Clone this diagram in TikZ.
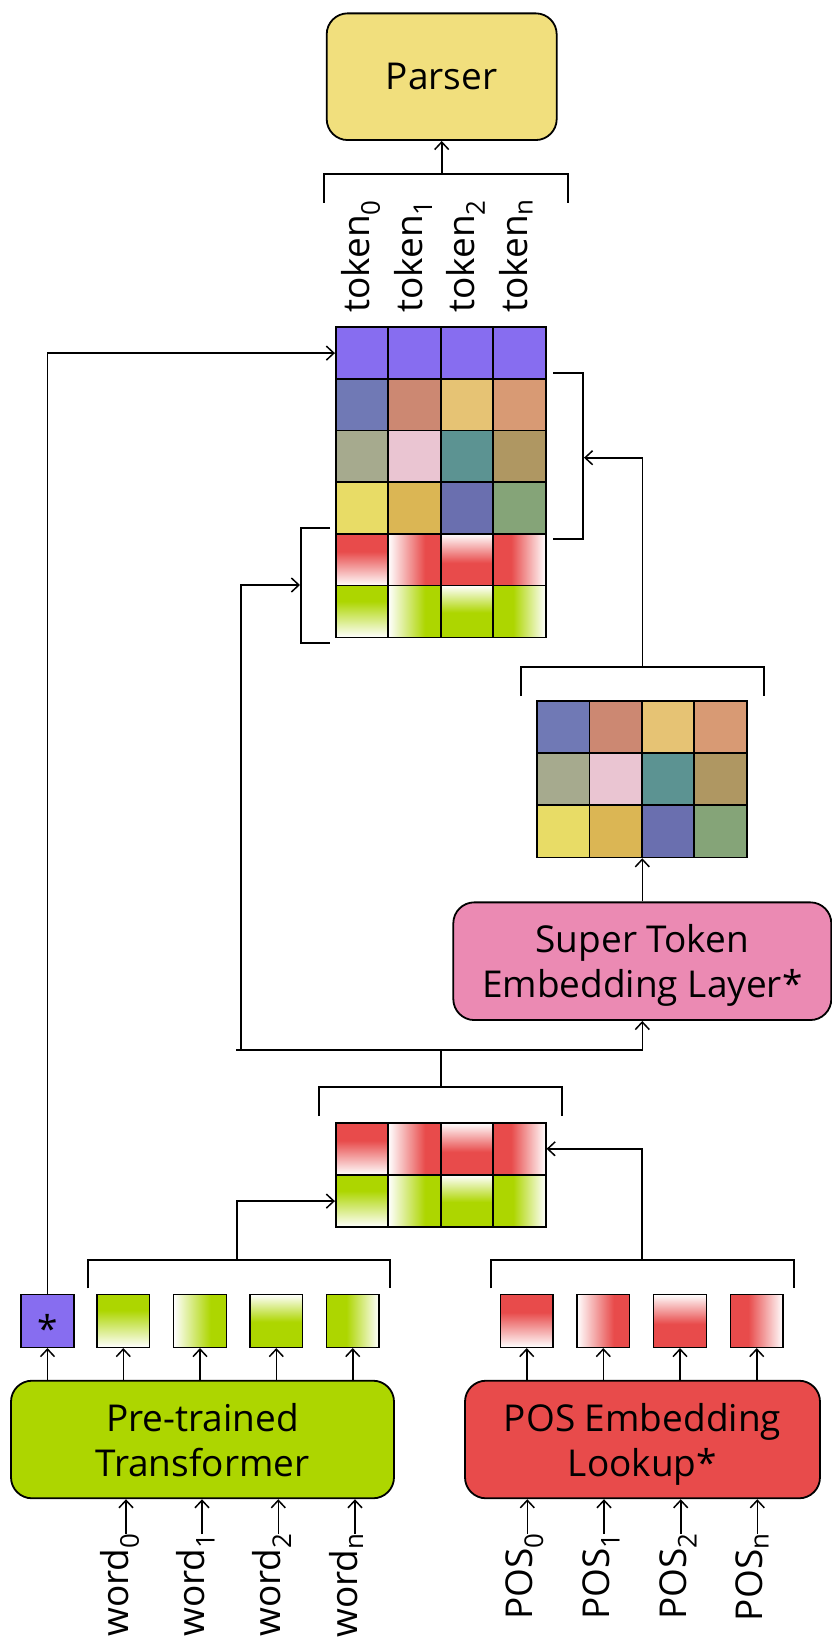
\documentclass[tikz,border=0pt]{standalone}
\usepackage{fontspec}
\setmainfont{Open Sans}
\usetikzlibrary{arrows.meta}
\definecolor{cpurple}{HTML}{876DF0}
\definecolor{cred}{HTML}{E84B4B}
\definecolor{cgreen}{HTML}{ADD600}
\definecolor{cparser}{HTML}{F1DF7D}
\definecolor{cpink}{HTML}{EB8AB3}
\definecolor{ca}{HTML}{7079B5}
\definecolor{cb}{HTML}{CC8872}
\definecolor{cc}{HTML}{E6C374}
\definecolor{cd}{HTML}{D89A74}
\definecolor{ce}{HTML}{A6AA8E}
\definecolor{cf}{HTML}{EAC5D2}
\definecolor{cg}{HTML}{5C9392}
\definecolor{ch}{HTML}{AF9762}
\definecolor{ci}{HTML}{E8DC66}
\definecolor{cj}{HTML}{DBB654}
\definecolor{ck}{HTML}{6A6FAF}
\definecolor{cl}{HTML}{85A478}
% red shadings
\pgfdeclareverticalshading{rTB}{100bp}{color(0bp)=(white); color(25bp)=(white); color(58bp)=(cred); color(100bp)=(cred)}
\pgfdeclarehorizontalshading{rWL}{100bp}{color(0bp)=(white); color(25bp)=(white); color(60bp)=(cred); color(100bp)=(cred)}
\pgfdeclareverticalshading{rWT}{100bp}{color(0bp)=(cred); color(47bp)=(cred); color(75bp)=(white); color(100bp)=(white)}
\pgfdeclarehorizontalshading{rCL}{100bp}{color(0bp)=(cred); color(42bp)=(cred); color(75bp)=(white); color(100bp)=(white)}
% green shadings
\pgfdeclareverticalshading{gTB}{100bp}{color(0bp)=(white); color(25bp)=(white); color(60bp)=(cgreen); color(100bp)=(cgreen)}
\pgfdeclarehorizontalshading{gWL}{100bp}{color(0bp)=(white); color(25bp)=(white); color(60bp)=(cgreen); color(100bp)=(cgreen)}
\pgfdeclareverticalshading{gWT}{100bp}{color(0bp)=(cgreen); color(49bp)=(cgreen); color(75bp)=(white); color(100bp)=(white)}
\pgfdeclarehorizontalshading{gCL}{100bp}{color(0bp)=(cgreen); color(44bp)=(cgreen); color(75bp)=(white); color(100bp)=(white)}
\begin{document}
\begin{tikzpicture}[x=1pt,y=-1pt,
  font=\fontsize{37}{45}\selectfont,
  box/.style={draw, line width=1.8pt, rounded corners=21pt, inner sep=0pt, align=center, text depth=0pt},
  cell/.style={draw, line width=1.6pt, inner sep=0pt, minimum width=52.5pt, minimum height=51.9pt},
  sq/.style={draw, line width=1.5pt, inner sep=0pt, minimum width=52.8pt, minimum height=53pt},
  arr/.style={line width=1.6pt, -{Straight Barb[length=7.5pt,width=14pt,line width=1.5pt]}},
  ln/.style={line width=1.6pt},
  brk/.style={line width=2pt},
  lbl/.style={inner sep=0pt, rotate=90}
]
\useasboundingbox[fill=white] (0,0) rectangle (832,1639);

% ---------- boxes ----------
\node[box, fill=cparser, minimum width=230pt, minimum height=126.7pt] (parser) at (441.7,76.7) {Parser};
\node[box, fill=cpink, minimum width=378pt, minimum height=117.7pt] (st) at (642.3,961.2) {Super Token\\Embedding Layer*};
\node[box, fill=cgreen, minimum width=383pt, minimum height=117.6pt] (tf) at (202.5,1439.5) {Pre-trained\\Transformer};
\node[box, fill=cred, minimum width=355pt, minimum height=117.6pt] (pos) at (642.5,1439.5) {POS Embedding\\Lookup*};

% ---------- top matrix ----------
\node[cell, fill=cpurple] (t11) at (362,353.1) {};
\node[cell, fill=cpurple] (t12) at (414.5,353.1) {};
\node[cell, fill=cpurple] (t13) at (467,353.1) {};
\node[cell, fill=cpurple] (t14) at (519.5,353.1) {};
\node[cell, fill=ca] (t21) at (362,404.8) {};
\node[cell, fill=cb] (t22) at (414.5,404.8) {};
\node[cell, fill=cc] (t23) at (467,404.8) {};
\node[cell, fill=cd] (t24) at (519.5,404.8) {};
\node[cell, fill=ce] (t31) at (362,456.5) {};
\node[cell, fill=cf] (t32) at (414.5,456.5) {};
\node[cell, fill=cg] (t33) at (467,456.5) {};
\node[cell, fill=ch] (t34) at (519.5,456.5) {};
\node[cell, fill=ci] (t41) at (362,508.1) {};
\node[cell, fill=cj] (t42) at (414.5,508.1) {};
\node[cell, fill=ck] (t43) at (467,508.1) {};
\node[cell, fill=cl] (t44) at (519.5,508.1) {};
\node[cell, shade, shading=rTB] (t51) at (362,559.8) {};
\node[cell, shade, shading=rWL] (t52) at (414.5,559.8) {};
\node[cell, shade, shading=rWT] (t53) at (467,559.8) {};
\node[cell, shade, shading=rCL] (t54) at (519.5,559.8) {};
\node[cell, shade, shading=gTB] (t61) at (362,611.5) {};
\node[cell, shade, shading=gWL] (t62) at (414.5,611.5) {};
\node[cell, shade, shading=gWT] (t63) at (467,611.5) {};
\node[cell, shade, shading=gCL] (t64) at (519.5,611.5) {};

% ---------- super token matrix ----------
\node[cell, fill=ca] (s11) at (563.5,727.1) {};
\node[cell, fill=cb] (s12) at (615.8,727.1) {};
\node[cell, fill=cc] (s13) at (668.2,727.1) {};
\node[cell, fill=cd] (s14) at (720.5,727.1) {};
\node[cell, fill=ce] (s21) at (563.5,779.3) {};
\node[cell, fill=cf] (s22) at (615.8,779.3) {};
\node[cell, fill=cg] (s23) at (668.2,779.3) {};
\node[cell, fill=ch] (s24) at (720.5,779.3) {};
\node[cell, fill=ci] (s31) at (563.5,831.5) {};
\node[cell, fill=cj] (s32) at (615.8,831.5) {};
\node[cell, fill=ck] (s33) at (668.2,831.5) {};
\node[cell, fill=cl] (s34) at (720.5,831.5) {};

% ---------- middle matrix ----------
\node[cell, shade, shading=rTB] (m11) at (362,1148.8) {};
\node[cell, shade, shading=rWL] (m12) at (414.5,1148.8) {};
\node[cell, shade, shading=rWT] (m13) at (467,1148.8) {};
\node[cell, shade, shading=rCL] (m14) at (519.5,1148.8) {};
\node[cell, shade, shading=gTB] (m21) at (362,1201.1) {};
\node[cell, shade, shading=gWL] (m22) at (414.5,1201.1) {};
\node[cell, shade, shading=gWT] (m23) at (467,1201.1) {};
\node[cell, shade, shading=gCL] (m24) at (519.5,1201.1) {};

% ---------- small boxes ----------
\node[sq, fill=cpurple] (star) at (47.5,1320.8) {};
\node[inner sep=0pt, anchor=base] (starlbl) at (47.5,1342.6) {*};
\node[sq, shade, shading=gTB] (g1) at (123.3,1320.8) {};
\node[sq, shade, shading=gWL] (g2) at (200,1320.8) {};
\node[sq, shade, shading=gWT] (g3) at (276.3,1320.8) {};
\node[sq, shade, shading=gCL] (g4) at (352.7,1320.8) {};
\node[sq, shade, shading=rTB] (p1) at (526.7,1320.8) {};
\node[sq, shade, shading=rWL] (p2) at (603.3,1320.8) {};
\node[sq, shade, shading=rWT] (p3) at (680,1320.8) {};
\node[sq, shade, shading=rCL] (p4) at (756.7,1320.8) {};

% ---------- labels ----------
\node[lbl, anchor=mid west] (tk0) at (367,313) {token\textsubscript{0}};
\node[lbl, anchor=mid west] (tk1) at (419.5,313) {token\textsubscript{1}};
\node[lbl, anchor=mid west] (tk2) at (472,313) {token\textsubscript{2}};
\node[lbl, anchor=mid west] (tkn) at (524.5,313) {token\textsubscript{n}};

\node[lbl, anchor=mid east] (w0) at (126,1533) {word\textsubscript{0}};
\node[lbl, anchor=mid east] (w1) at (202,1533) {word\textsubscript{1}};
\node[lbl, anchor=mid east] (w2) at (278.3,1533) {word\textsubscript{2}};
\node[lbl, anchor=mid east] (wn) at (355,1533) {word\textsubscript{n}};

\node[lbl, anchor=mid east] (q0) at (530.3,1533) {POS\textsubscript{0}};
\node[lbl, anchor=mid east] (q1) at (607,1533) {POS\textsubscript{1}};
\node[lbl, anchor=mid east] (q2) at (683.7,1533) {POS\textsubscript{2}};
\node[lbl, anchor=mid east] (qn) at (760.3,1533) {POS\textsubscript{n}};

% ---------- input arrows ----------
\foreach \w in {w0,w1,w2,wn}
  \draw[arr] ([yshift=-1pt]\w.mid east) -- (\w.mid east |- tf.south);
\foreach \q in {q0,q1,q2,qn}
  \draw[arr] ([xshift=-3pt,yshift=-1pt]\q.mid east) -- ([xshift=-3pt]\q.mid east |- pos.south);

% ---------- output arrows ----------
\foreach \b in {star,g1,g2,g3,g4}
  \draw[arr] (\b.south |- tf.north) -- (\b.south);
\foreach \b in {p1,p2,p3,p4}
  \draw[arr] (\b.south |- pos.north) -- (\b.south);

% ---------- brackets ----------
\draw[brk] (324.3,202.7) -- (324.3,174) -- (567.7,174) -- (567.7,202.7);
\coordinate (tokbrk) at (441.7,174);
\draw[arr] (tokbrk) -- (parser.south);

\draw[brk] (553,373.3) -- (582.7,373.3) -- (582.7,538.7) -- (553,538.7);
\coordinate (rbrk) at (584,457.7);
\draw[brk] (521,696) -- (521,667.3) -- (764,667.3) -- (764,696);
\coordinate (stbrk) at (642.3,667.3);
\draw[arr] (stbrk) |- (rbrk);

\draw[brk] (330,527.7) -- (301,527.7) -- (301,642.7) -- (330,642.7);
\coordinate (lbrk) at (300,585);
\coordinate (hl) at (241,1050);
\draw[arr] (hl) |- (lbrk);

\coordinate (hlend) at (236,1050);
\draw[arr] (hlend) -| (st.south);

\draw[brk] (319,1116) -- (319,1087.3) -- (562,1087.3) -- (562,1116);
\coordinate (mbrk) at (440.7,1087.3);
\draw[ln] (mbrk) -- (mbrk |- hl);

\draw[arr] (st.north) -- (st.north |- s31.south);

\draw[arr] (star.north) |- (t11.west);

\draw[brk] (87.7,1288.3) -- (87.7,1260) -- (390,1260) -- (390,1288.3);
\coordinate (wbrk) at (236.7,1260);
\draw[arr] (wbrk) |- (m21.west);

\draw[brk] (490.7,1288.3) -- (490.7,1260) -- (794,1260) -- (794,1288.3);
\coordinate (pbrk) at (642,1260);
\draw[arr] (pbrk) |- (m14.east);
\end{tikzpicture}
\end{document}
